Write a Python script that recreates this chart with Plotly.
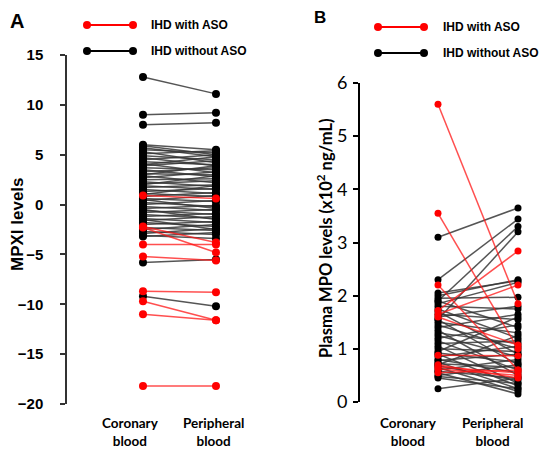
import plotly.graph_objects as go

W, H = 551, 451

# ---------------- Data ----------------
# Panel A: MPXI levels (coronary -> peripheral)
a_red_cor = [0.9, -2.2, -2.3, -4.0, -5.2, -8.7, -9.7, -11.0, -18.2]
a_red_per = [0.6, -3.8, -4.8, -4.0, -5.6, -8.8, -11.6, -11.6, -18.2]

a_blk_cor = [12.8, 9.0, 8.0, 6.0, 5.9, 5.7, 5.5, 5.3, 5.1, 4.9, 4.7, 4.5, 4.3, 4.1, 4.0,
             3.9, 3.7, 3.5, 3.3, 3.1, 3.0, 2.9, 2.7, 2.5, 2.3, 2.1, 2.0, 1.9, 1.7, 1.5,
             1.3, 1.1, 1.0, 0.8, 0.6, 0.5, 0.4, 0.2, 0.0, -0.2, -0.4, -0.5, -0.6, -0.8,
             -1.0, -1.2, -1.4, -1.5, -1.6, -1.8, -2.0, -2.3, -2.5, -2.7, -2.9, -3.1,
             -3.2, -5.8, -9.2]
a_blk_per = [11.1, 9.2, 8.2, 5.5, 5.0, 4.8, 5.2, 4.2, 5.4, 4.5, 3.9, 5.0, 4.0, 3.2, 4.8,
             4.4, 3.5, 2.8, 3.7, 3.0, 3.9, 2.2, 3.3, 2.6, 1.8, 2.4, 2.9, 1.5, 2.0, 1.1,
             1.6, 0.8, 1.9, 1.2, 0.3, -0.4, 0.9, -0.2, 0.4, -0.6, -0.1, -1.5, -1.0, -0.5,
             -1.4, -0.9, -1.8, -2.5, -1.2, -2.2, -1.7, -2.6, -2.0, -3.0, -2.4, -3.4,
             -2.8, -5.5, -10.2]

# Panel B: Plasma MPO levels (x10^2 ng/mL)
b_red_cor = [5.6, 3.55, 2.2, 1.72, 1.65, 1.6, 0.88, 0.7, 0.66, 0.62, 0.55]
b_red_per = [1.85, 1.0, 0.6, 2.84, 2.2, 1.07, 0.87, 0.45, 0.55, 0.5, 0.6]

b_blk_cor = [3.1, 2.3, 2.05, 1.9, 1.55, 2.0, 1.95, 1.9, 1.85, 1.8, 1.75, 1.7, 1.65, 1.6,
             1.55, 1.5, 1.45, 1.4, 1.35, 1.3, 1.25, 1.2, 1.15, 1.1, 1.05, 1.0, 0.95,
             0.92, 0.9, 0.85, 0.8, 0.78, 0.75, 0.72, 0.7, 0.68, 0.65, 0.6, 0.58, 0.55,
             0.5, 0.48, 0.45, 0.25]
b_blk_per = [3.65, 3.44, 2.28, 3.3, 3.2, 2.3, 1.97, 1.4, 2.25, 1.75, 1.2, 0.9, 1.55, 1.8,
             0.7, 1.3, 1.0, 1.65, 0.5, 1.1, 0.85, 1.45, 0.6, 1.15, 0.35, 0.95, 1.6,
             0.75, 0.3, 1.05, 0.55, 0.9, 0.25, 0.65, 1.25, 0.4, 0.2, 0.8, 0.45, 0.15,
             0.7, 0.35, 0.25, 0.45]

categories = ["Coronary<br>blood", "Peripheral<br>blood"]
a_yticks = [-20, -15, -10, -5, 0, 5, 10, 15]
b_yticks = [0, 1, 2, 3, 4, 5, 6]
legend_names = ["IHD with ASO", "IHD without ASO"]


def pairs(cor, per):
    xs, ys = [], []
    for c, p in zip(cor, per):
        xs += [0, 1, None]
        ys += [c, p, None]
    return xs, ys


def px(x):
    return x / W


def py(y):
    return 1 - y / H


RED_LINE = "rgba(255,20,20,0.75)"
BLK_LINE = "rgba(55,55,55,0.85)"

fig = go.Figure()

for (cor, per, col, lcol, ms, xa, ya) in [
    (a_blk_cor, a_blk_per, "black", BLK_LINE, 8, "x", "y"),
    (a_red_cor, a_red_per, "#ff0000", RED_LINE, 8, "x", "y"),
    (b_blk_cor, b_blk_per, "black", BLK_LINE, 7, "x2", "y2"),
    (b_red_cor, b_red_per, "#ff0000", RED_LINE, 7, "x2", "y2"),
]:
    xs, ys = pairs(cor, per)
    fig.add_trace(go.Scatter(
        x=xs, y=ys, mode="lines+markers", xaxis=xa, yaxis=ya,
        line=dict(color=lcol, width=1.5),
        marker=dict(color=col, size=ms),
        showlegend=False, cliponaxis=False, hoverinfo="skip"))

tick_font_a = dict(family="Liberation Sans", size=15, color="black", weight="bold")
tick_font_b = dict(family="Lato", size=18, color="black")

fig.update_layout(
    width=W, height=H,
    margin=dict(l=0, r=0, t=0, b=0, pad=0, autoexpand=False),
    paper_bgcolor="white", plot_bgcolor="white",
    showlegend=False,
    xaxis=dict(domain=[px(67), px(260)], range=[-1.041, 1.603], visible=False,
               automargin=False),
    yaxis=dict(domain=[py(404), py(55)], range=[-20, 15], tickvals=a_yticks,
               showline=True, linecolor="#333", linewidth=1.5, ticks="outside",
               ticklen=5, tickwidth=1.5, tickcolor="#333", showgrid=False,
               zeroline=False, tickfont=tick_font_a, ticklabelstandoff=14,
               automargin=False),
    xaxis2=dict(domain=[px(360), 1.0], range=[-0.975, 1.4125], visible=False,
                automargin=False),
    yaxis2=dict(domain=[py(402), py(83)], range=[0, 6], tickvals=b_yticks,
                anchor="x2", showline=True, linecolor="black", linewidth=2,
                ticks="outside", ticklen=5, tickwidth=2, tickcolor="black",
                showgrid=False, zeroline=False, tickfont=tick_font_b,
                ticklabelstandoff=2, automargin=False),
)

lab_font = dict(family="Lato", size=13.5, color="black", weight="bold")
ann = []


def text_at(x, y, text, font, angle=0, xanchor="center"):
    ann.append(dict(x=px(x), y=py(y), xref="paper", yref="paper", text=text,
                    showarrow=False, font=font, textangle=angle,
                    xanchor=xanchor, yanchor="middle", borderpad=0))


# category labels
for i, cx_pix in enumerate([130, 213]):
    text_at(cx_pix, 432, "<b>" + categories[i] + "</b>", lab_font)
for i, cx_pix in enumerate([408, 492]):
    text_at(cx_pix, 432, "<b>" + categories[i] + "</b>", lab_font)
# axis titles
text_at(17, 224, "<b>MPXI levels</b>",
        dict(family="Liberation Sans", size=17, color="black"), angle=-90)
text_at(325, 238, "<b>Plasma MPO levels (x10<sup>2</sup> ng/mL)</b>",
        dict(family="Lato", size=16.5, color="black"), angle=-90)
# panel letters
text_at(17, 21, "<b>A</b>", dict(family="Liberation Sans", size=20, color="black"))
text_at(320, 17, "<b>B</b>", dict(family="Liberation Sans", size=17, color="black"))

# legends (drawn as decorations)
shapes = []
leg_font = dict(family="Liberation Sans", size=12, color="black")
for (x0, x1, ytop, tx) in [(87, 133, 25, 150), (378, 424, 27, 442)]:
    for i, col in enumerate(["#ff0000", "black"]):
        yy = ytop + 26 * i
        shapes.append(dict(type="line", xref="paper", yref="paper",
                           x0=px(x0), x1=px(x1), y0=py(yy), y1=py(yy),
                           line=dict(color=col, width=2)))
        for xx in (x0, x1):
            shapes.append(dict(type="circle", xref="paper", yref="paper",
                               xsizemode="pixel", ysizemode="pixel",
                               xanchor=px(xx), yanchor=py(yy),
                               x0=-4, x1=4, y0=-4, y1=4,
                               fillcolor=col, line=dict(color=col, width=0)))
        text_at(tx, yy, "<b>" + legend_names[i] + "</b>", leg_font, xanchor="left")

fig.update_layout(annotations=ann, shapes=shapes)
fig.write_html("out.html",
               config={"displayModeBar": False},
               post_script="document.body.style.margin='0';"
                           "document.body.style.overflow='hidden';")
